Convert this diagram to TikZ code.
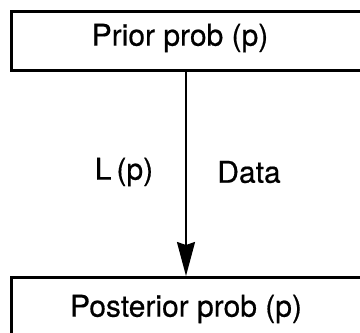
\documentclass[tikz,border=0pt]{standalone}
\usepackage{fontspec}
\setmainfont{TeX Gyre Heros}
\newfontfamily\heavyhv{TeX Gyre Heros}[FakeBold=0.5]
\usetikzlibrary{arrows.meta}
\begin{document}
\begin{tikzpicture}[x=1pt,y=-1pt,
  boxframe/.style={draw, line width=2.6pt, rectangle, inner sep=0pt, anchor=north west},
  lbl/.style={inner sep=0pt, font=\heavyhv\fontsize{30}{34}\selectfont},
  arr/.style={line width=2pt, -{Stealth[length=34pt,width=18pt,inset=3pt]}}]
\clip (0,0) rectangle (360,333);
\node[boxframe, minimum width=380pt, minimum height=59pt] (prior) at (10,10) {};
\node[boxframe, minimum width=380pt, minimum height=80pt] (post) at (10,276) {};
\node[lbl] (ptxt) at (180,38) {Prior prob (p)};
\node[lbl] (qtxt) at (186,309) {Posterior prob (p)};
\coordinate (ax) at (186,0);
\draw[arr] (prior.south -| ax) -- (post.north -| ax);
\node[lbl] (lp) at (124,172) {L\,(p)};
\node[lbl] (data) at (249,172) {Data};
\end{tikzpicture}
\end{document}
